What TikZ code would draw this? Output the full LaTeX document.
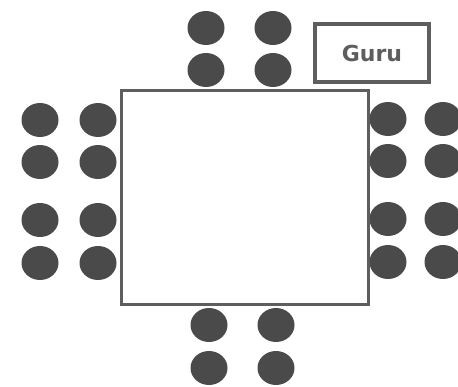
\documentclass[tikz,border=0pt]{standalone}
\usepackage{fontspec}
\setmainfont{DejaVu Sans}
\usetikzlibrary{shapes.geometric}
\definecolor{seat}{HTML}{4A4A4A}
\definecolor{edge}{HTML}{5E5E5E}
\begin{document}
\begin{tikzpicture}[x=1pt,y=-1pt,
  seatdot/.style={ellipse,fill=seat,minimum width=37pt,minimum height=34pt,inner sep=0pt},
  tablebox/.style={draw=edge,line width=3pt,fill=white},
  gurubox/.style={draw=edge,line width=3.2pt,minimum width=114pt,minimum height=58pt,inner sep=0pt,
    font=\fontsize{22}{24}\selectfont\bfseries,text=edge}]
\useasboundingbox[fill=white] (0,0) rectangle (458,387);
% seats along the top side
\node[seatdot] (t1) at (206,28) {};
\node[seatdot] (t2) at (273,28) {};
\node[seatdot] (t3) at (206,70) {};
\node[seatdot] (t4) at (273,70) {};
% seats along the bottom side
\node[seatdot] (b1) at (209,325) {};
\node[seatdot] (b2) at (276,325) {};
\node[seatdot] (b3) at (209,368) {};
\node[seatdot] (b4) at (276,368) {};
% seats along the left side
\node[seatdot] (l1) at (40,120) {};
\node[seatdot] (l2) at (98,120) {};
\node[seatdot] (l3) at (40,162) {};
\node[seatdot] (l4) at (98,162) {};
\node[seatdot] (l5) at (40,220) {};
\node[seatdot] (l6) at (98,220) {};
\node[seatdot] (l7) at (40,263) {};
\node[seatdot] (l8) at (98,263) {};
% seats along the right side
\node[seatdot] (r1) at (388,119) {};
\node[seatdot] (r2) at (443,119) {};
\node[seatdot] (r3) at (388,161) {};
\node[seatdot] (r4) at (443,161) {};
\node[seatdot] (r5) at (388,219) {};
\node[seatdot] (r6) at (443,219) {};
\node[seatdot] (r7) at (388,262) {};
\node[seatdot] (r8) at (443,262) {};
% the table
\draw[tablebox] (121,91) rectangle (368,305);
% the guru's place
\node[gurubox] (guru) at (372,53) {Guru};
\end{tikzpicture}
\end{document}
